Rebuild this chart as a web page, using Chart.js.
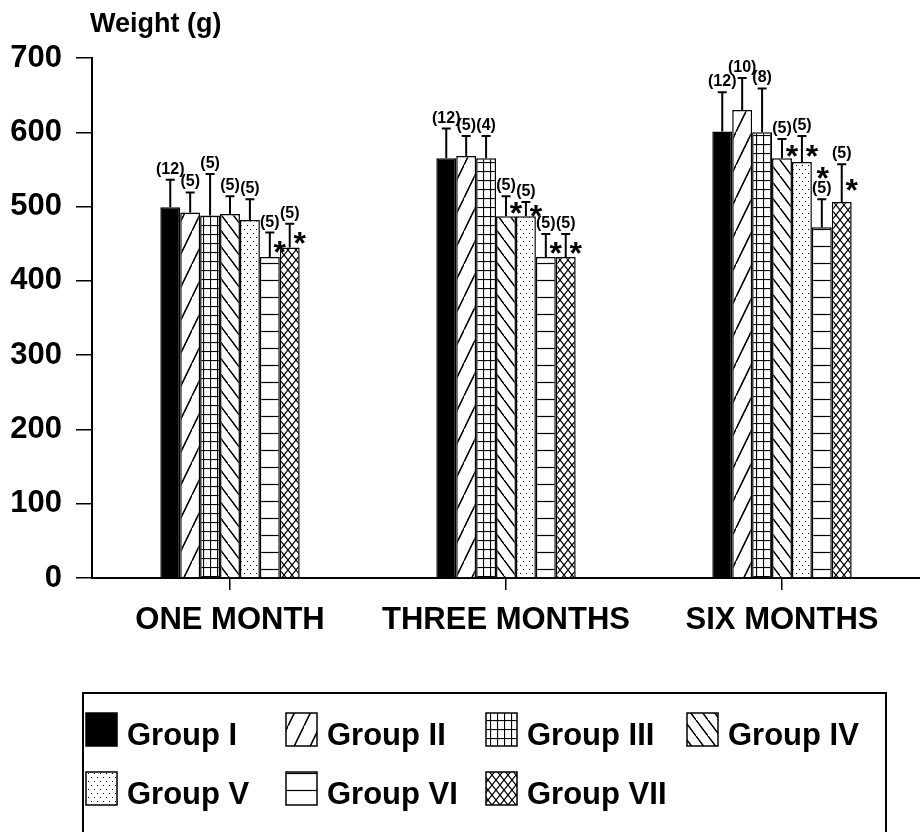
<!DOCTYPE html>
<html lang="en">
<head>
    <meta charset="UTF-8">
    <title>Body weight by group</title>
    <style>
        body { margin: 0; background: #fff; }
        #weightChart { display: block; }
    </style>
</head>
<body>
    <canvas id="weightChart" width="920" height="832"></canvas>

    <script src="https://cdn.jsdelivr.net/npm/chart.js"></script>
    <script>
        // Categories along the x axis
        const periods = ['ONE MONTH', 'THREE MONTHS', 'SIX MONTHS'];
        const groupNames = ['Group I', 'Group II', 'Group III', 'Group IV', 'Group V', 'Group VI', 'Group VII'];

        // Mean weight (g) per group, one value per period
        const groupI   = [499, 565, 601];
        const groupII  = [492, 568, 630];
        const groupIII = [488, 565, 600];
        const groupIV  = [490, 487, 565];
        const groupV   = [482, 487, 560];
        const groupVI  = [432, 432, 472];
        const groupVII = [445, 432, 506];

        // Standard deviation (upper error bar only)
        const sdI   = [37, 40, 53];
        const sdII  = [27, 27, 43];
        const sdIII = [56, 30, 59];
        const sdIV  = [24, 27, 26];
        const sdV   = [28, 19, 35];
        const sdVI  = [33, 31, 38];
        const sdVII = [32, 31, 51];

        // Number of animals shown above each bar
        const nI   = [12, 12, 12];
        const nII  = [5, 5, 10];
        const nIII = [5, 4, 8];
        const nIV  = [5, 5, 5];
        const nV   = [5, 5, 5];
        const nVI  = [5, 5, 5];
        const nVII = [5, 5, 5];

        // Significance marks: 0 none, 1 asterisk beside error bar, 2 asterisk above the n label
        const starI   = [0, 0, 0];
        const starII  = [0, 0, 0];
        const starIII = [0, 0, 0];
        const starIV  = [0, 1, 1];
        const starV   = [0, 1, 1];
        const starVI  = [1, 1, 2];
        const starVII = [1, 1, 1];

        // Y axis ticks
        const yTicks = [0, 100, 200, 300, 400, 500, 600, 700];

        const means = [groupI, groupII, groupIII, groupIV, groupV, groupVI, groupVII];
        const sds = [sdI, sdII, sdIII, sdIV, sdV, sdVI, sdVII];
        const counts = [nI, nII, nIII, nIV, nV, nVI, nVII];
        const stars = [starI, starII, starIII, starIV, starV, starVI, starVII];

        const FONT = "'Liberation Sans', Arial, Helvetica, sans-serif";
        const canvas = document.getElementById('weightChart');
        const ctx = canvas.getContext('2d');

        // Build a black-on-white hatch pattern from a small tile
        function makePattern(w, h, draw) {
            const tile = document.createElement('canvas');
            tile.width = w;
            tile.height = h;
            const g = tile.getContext('2d');
            g.fillStyle = '#fff';
            g.fillRect(0, 0, w, h);
            g.strokeStyle = '#000';
            g.fillStyle = '#000';
            g.lineWidth = 1.2;
            draw(g, w, h);
            return ctx.createPattern(tile, 'repeat');
        }

        function line(g, x1, y1, x2, y2) {
            g.beginPath();
            g.moveTo(x1, y1);
            g.lineTo(x2, y2);
            g.stroke();
        }

        const fills = [
            '#000',
            // forward slash
            makePattern(16, 33, (g, w, h) => {
                line(g, -w, 2 * h, w, 0);
                line(g, 0, h, 2 * w, -h);
                line(g, 0, 2 * h, 2 * w, 0);
            }),
            // grid
            makePattern(7, 9, (g, w, h) => {
                line(g, 0.5, 0, 0.5, h);
                line(g, 0, 0.5, w, 0.5);
            }),
            // back slash
            makePattern(12, 16, (g, w, h) => {
                line(g, -w, -h, w, h);
                line(g, 0, 0, 2 * w, 2 * h);
                line(g, 0, -h, 2 * w, h);
            }),
            // dots
            makePattern(6, 8, (g, w, h) => {
                g.fillRect(1, 1, 1, 1);
                g.fillRect(4, 5, 1, 1);
            }),
            // horizontal lines
            makePattern(8, 17, (g, w, h) => {
                line(g, 0, 8.5, w, 8.5);
            }),
            // cross hatch
            makePattern(8, 10, (g, w, h) => {
                line(g, -w, -h, 2 * w, 2 * h);
                line(g, 2 * w, -h, -w, 2 * h);
            })
        ];

        // Error bars, n labels and asterisks
        const annotations = {
            id: 'annotations',
            afterDatasetsDraw(chart) {
                const c = chart.ctx;
                const y = chart.scales.y;
                c.save();
                c.strokeStyle = '#000';
                c.fillStyle = '#000';
                chart.data.datasets.forEach((ds, i) => {
                    const meta = chart.getDatasetMeta(i);
                    meta.data.forEach((bar, j) => {
                        const top = y.getPixelForValue(means[i][j]);
                        const cap = y.getPixelForValue(means[i][j] + sds[i][j]);
                        c.lineWidth = 2;
                        c.beginPath();
                        c.moveTo(bar.x, top);
                        c.lineTo(bar.x, cap);
                        c.moveTo(bar.x - 4.5, cap);
                        c.lineTo(bar.x + 4.5, cap);
                        c.stroke();

                        c.font = 'bold 16px ' + FONT;
                        c.textAlign = 'center';
                        c.textBaseline = 'alphabetic';
                        const labelBase = cap - 6;
                        c.fillText('(' + counts[i][j] + ')', bar.x, labelBase);

                        // asterisk glyph sits high, so push the baseline down
                        c.font = 'bold 32px ' + FONT;
                        if (stars[i][j] === 1) {
                            c.fillText('*', bar.x + 10, (top + cap) / 2 + 18);
                        } else if (stars[i][j] === 2) {
                            c.fillText('*', bar.x + 1, labelBase - 4);
                        }
                    });
                });
                c.restore();
            }
        };

        // Axis title at the top and the boxed legend below the chart
        const frame = {
            id: 'frame',
            afterDraw(chart) {
                const c = chart.ctx;
                c.save();
                c.fillStyle = '#000';
                c.textAlign = 'left';
                c.textBaseline = 'alphabetic';
                c.font = 'bold 27px ' + FONT;
                c.fillText('Weight (g)', 90, 32);

                // legend box
                c.strokeStyle = '#000';
                c.lineWidth = 2;
                c.strokeRect(83, 693, 803, 160);

                const colX = [86, 286, 486, 687];
                const rowY = [713, 772];
                c.font = 'bold 31px ' + FONT;
                groupNames.forEach((name, k) => {
                    const sx = colX[k % 4];
                    const sy = rowY[Math.floor(k / 4)];
                    c.fillStyle = fills[k];
                    c.fillRect(sx, sy, 31, 33);
                    c.lineWidth = 1.5;
                    c.strokeRect(sx, sy, 31, 33);
                    c.fillStyle = '#000';
                    c.fillText(name, sx + 41, sy + 32);
                });
                c.restore();
            }
        };

        const chart = new Chart(ctx, {
            type: 'bar',
            data: {
                labels: periods,
                datasets: groupNames.map((name, i) => ({
                    label: name,
                    data: means[i],
                    backgroundColor: fills[i],
                    borderColor: '#000',
                    borderWidth: 1.5,
                    categoryPercentage: 0.505,
                    barPercentage: 1
                }))
            },
            options: {
                responsive: false,
                animation: false,
                layout: {
                    padding: { top: 58, left: 0, right: 0, bottom: 0 }
                },
                plugins: {
                    legend: { display: false },
                    tooltip: { enabled: false }
                },
                scales: {
                    x: {
                        afterFit: (scale) => { scale.height = 254; },
                        grid: {
                            offset: false,
                            drawOnChartArea: false,
                            tickLength: 12,
                            color: '#000',
                            lineWidth: 1.5
                        },
                        border: { display: true, color: '#000', width: 2 },
                        ticks: {
                            color: '#000',
                            padding: 12,
                            font: { family: FONT, size: 31, weight: 'bold' }
                        }
                    },
                    y: {
                        min: 0,
                        max: 700,
                        afterFit: (scale) => { scale.width = 92; },
                        afterBuildTicks: (scale) => {
                            scale.ticks = yTicks.map(v => ({ value: v }));
                        },
                        grid: {
                            drawOnChartArea: false,
                            tickLength: 16,
                            color: '#000',
                            lineWidth: 1.5
                        },
                        border: { display: true, color: '#000', width: 2 },
                        ticks: {
                            color: '#000',
                            padding: 14,
                            font: { family: FONT, size: 31, weight: 'bold' }
                        }
                    }
                }
            },
            plugins: [annotations, frame]
        });
    </script>
</body>
</html>
